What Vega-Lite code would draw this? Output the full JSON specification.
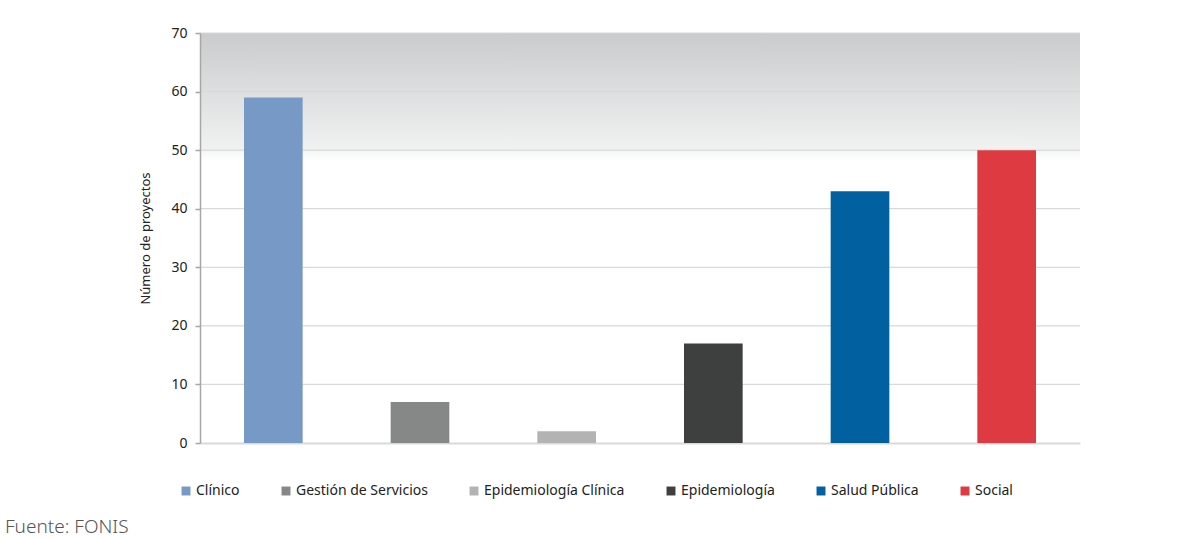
{
  "$schema": "https://vega.github.io/schema/vega-lite/v6.json",
  "autosize": "none",
  "width": 880,
  "height": 410,
  "padding": {"left": 200, "top": 33, "right": 120, "bottom": 97},
  "background": "white",
  "config": {
    "view": {"stroke": null},
    "font": "Noto Sans"
  },
  "title": {
    "text": "Fuente: FONIS",
    "orient": "bottom",
    "anchor": "start",
    "frame": "group",
    "dx": -195,
    "offset": 20,
    "fontSize": 19,
    "fontWeight": 300,
    "color": "#555555"
  },
  "datasets": {
    "bars": [
      {"area": "Clínico", "proyectos": 59},
      {"area": "Gestión de Servicios", "proyectos": 7},
      {"area": "Epidemiología Clínica", "proyectos": 2},
      {"area": "Epidemiología", "proyectos": 17},
      {"area": "Salud Pública", "proyectos": 43},
      {"area": "Social", "proyectos": 50}
    ],
    "grid": [
      {"v": 10}, {"v": 20}, {"v": 30}, {"v": 40}, {"v": 50}, {"v": 60}, {"v": 70}
    ]
  },
  "layer": [
    {
      "data": {"values": [{"band": "fondo"}]},
      "mark": {
        "type": "rect",
        "fill": {
          "gradient": "linear",
          "x1": 0, "y1": 0, "x2": 0, "y2": 1,
          "stops": [
            {"offset": 0, "color": "#cacbcc"},
            {"offset": 0.9, "color": "#f0f1f1"},
            {"offset": 0.93, "color": "#f7f8f8"},
            {"offset": 1, "color": "#ffffff"}
          ]
        }
      },
      "encoding": {
        "x": {"value": 0},
        "x2": {"value": "width"},
        "y": {
          "datum": 70,
          "type": "quantitative",
          "scale": {"domain": [0, 70]},
          "axis": {
            "title": "Número de proyectos",
            "titleFontSize": 13,
            "titleFontWeight": "normal",
            "titleColor": "#222222",
            "titlePadding": 18,
            "values": [0, 10, 20, 30, 40, 50, 60, 70],
            "labelOverlap": false,
            "grid": false,
            "zindex": 1,
            "domainColor": "#a6a6a6",
            "domainWidth": 1.5,
            "tickColor": "#a6a6a6",
            "tickWidth": 1.5,
            "tickSize": 5,
            "labelFontSize": 14,
            "labelColor": "#222222",
            "labelPadding": 8
          }
        },
        "y2": {"datum": 48}
      }
    },
    {
      "data": {"name": "grid"},
      "mark": {"type": "rule", "color": "#d9d9d9", "strokeWidth": 1.2},
      "encoding": {
        "y": {"field": "v", "type": "quantitative"}
      }
    },
    {
      "data": {"name": "bars"},
      "mark": {"type": "bar"},
      "encoding": {
        "x": {
          "field": "area",
          "type": "nominal",
          "sort": null,
          "scale": {"paddingInner": 0.6, "paddingOuter": 0.3},
          "axis": {
            "title": null,
            "labels": false,
            "ticks": false,
            "domainColor": "#d9d9d9",
            "domainWidth": 2
          }
        },
        "y": {
          "field": "proyectos",
          "type": "quantitative"
        },
        "color": {
          "field": "area",
          "type": "nominal",
          "sort": null,
          "scale": {
            "domain": ["Clínico", "Gestión de Servicios", "Epidemiología Clínica", "Epidemiología", "Salud Pública", "Social"],
            "range": ["#7799c6", "#868787", "#b3b3b3", "#3e3f3f", "#0060a0", "#dd3b41"]
          },
          "legend": {
            "title": null,
            "orient": "none",
            "direction": "horizontal",
            "columns": 6,
            "legendX": -21,
            "legendY": 451,
            "symbolType": "square",
            "symbolSize": 80,
            "symbolStrokeWidth": 0,
            "labelFontSize": 14,
            "labelColor": "#222222",
            "labelOffset": 3,
            "columnPadding": 39
          }
        }
      }
    }
  ]
}
